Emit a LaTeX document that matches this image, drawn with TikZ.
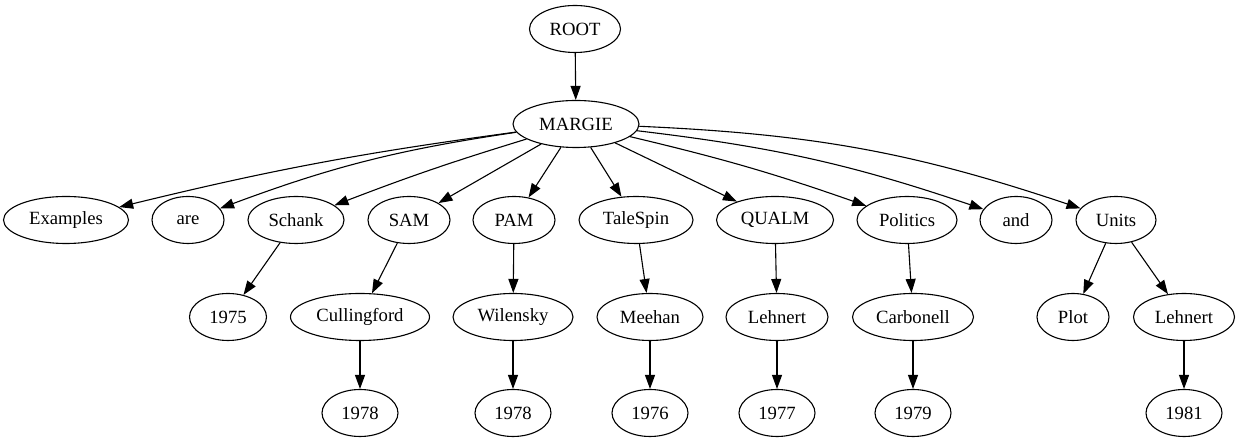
\documentclass[tikz,border=0pt]{standalone}
\usepackage{fontspec}
\setmainfont{Liberation Serif}
\usetikzlibrary{shapes.geometric,arrows.meta}
\tikzset{
  gv/.style={draw, ellipse, line width=1.1pt, inner sep=0pt, minimum height=47pt,
             font=\fontsize{18.67pt}{22pt}\selectfont},
  gvedge/.style={line width=1.1pt, -{Triangle[length=14pt,width=10pt]}},
}
\begin{document}
\begin{tikzpicture}[x=1pt,y=1pt]
\useasboundingbox (0,0) rectangle (1241,443);
% row 1-2
\node[gv, minimum width=91pt]  (root)   at (575,414) {ROOT};
\node[gv, minimum width=126pt] (margie) at (576,319) {MARGIE};
% row 3
\node[gv, minimum width=125pt] (examples) at (66,223)  {Examples};
\node[gv, minimum width=72pt]  (are)      at (188,223) {are};
\node[gv, minimum width=96pt]  (schank)   at (296,223) {Schank};
\node[gv, minimum width=82pt]  (sam)      at (409,223) {SAM};
\node[gv, minimum width=82pt]  (pam)      at (514,223) {PAM};
\node[gv, minimum width=114pt] (talespin) at (636,223) {TaleSpin};
\node[gv, minimum width=117pt] (qualm)    at (775,223) {QUALM};
\node[gv, minimum width=100pt] (politics) at (907,223) {Politics};
\node[gv, minimum width=72pt]  (and)      at (1016,223) {and};
\node[gv, minimum width=80pt]  (units)    at (1116,223) {Units};
% row 4
\node[gv, minimum width=77pt]  (y1975)       at (228,126)  {1975};
\node[gv, minimum width=139pt] (cullingford) at (360,126)  {Cullingford};
\node[gv, minimum width=120pt] (wilensky)    at (513,126)  {Wilensky};
\node[gv, minimum width=106pt] (meehan)      at (650,126)  {Meehan};
\node[gv, minimum width=102pt] (lehnerta)    at (777,126)  {Lehnert};
\node[gv, minimum width=121pt] (carbonell)   at (913,126)  {Carbonell};
\node[gv, minimum width=72pt]  (plot)        at (1073,126) {Plot};
\node[gv, minimum width=101pt] (lehnertb)    at (1184,126) {Lehnert};
% row 5
\node[gv, minimum width=76pt] (y1978a) at (360,30)  {1978};
\node[gv, minimum width=76pt] (y1978b) at (513,30)  {1978};
\node[gv, minimum width=76pt] (y1976)  at (650,30)  {1976};
\node[gv, minimum width=76pt] (y1977)  at (777,30)  {1977};
\node[gv, minimum width=76pt] (y1979)  at (913,30)  {1979};
\node[gv, minimum width=76pt] (y1981)  at (1184,30) {1981};
% edges
\draw[gvedge] (root) -- (margie);
\draw[gvedge] (margie) to[bend right=3] (examples);
\draw[gvedge] (margie) to[bend right=6] (are);
\draw[gvedge] (margie) to[bend right=2] (schank);
\draw[gvedge] (margie) -- (sam);
\draw[gvedge] (margie) -- (pam);
\draw[gvedge] (margie) -- (talespin);
\draw[gvedge] (margie) -- (qualm);
\draw[gvedge] (margie) to[bend left=3] (politics);
\draw[gvedge] (margie) to[bend left=6] (and);
\draw[gvedge] (margie) to[bend left=8] (units);
\draw[gvedge] (schank) -- (y1975);
\draw[gvedge] (sam) -- (cullingford);
\draw[gvedge] (pam) -- (wilensky);
\draw[gvedge] (talespin) -- (meehan);
\draw[gvedge] (qualm) -- (lehnerta);
\draw[gvedge] (politics) -- (carbonell);
\draw[gvedge] (units) -- (plot);
\draw[gvedge] (units) -- (lehnertb);
\draw[gvedge] (cullingford) -- (y1978a);
\draw[gvedge] (wilensky) -- (y1978b);
\draw[gvedge] (meehan) -- (y1976);
\draw[gvedge] (lehnerta) -- (y1977);
\draw[gvedge] (carbonell) -- (y1979);
\draw[gvedge] (lehnertb) -- (y1981);
\end{tikzpicture}
\end{document}
